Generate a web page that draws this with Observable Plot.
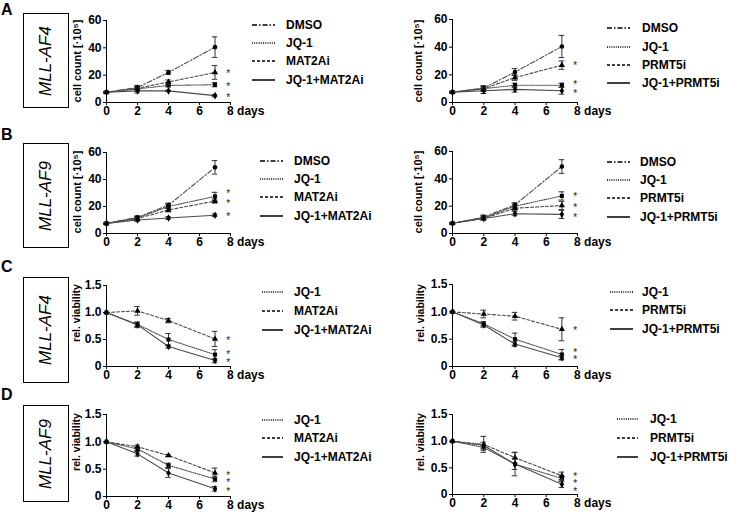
<!DOCTYPE html>
<html><head><meta charset="utf-8">
<script src="https://cdn.jsdelivr.net/npm/d3@7"></script>
<script src="https://cdn.jsdelivr.net/npm/@observablehq/plot@0.6"></script>
<style>
body{margin:0;background:#fff;}
#wrap{position:relative;width:729px;height:513px;font-family:"Liberation Sans",Arial,sans-serif;color:#000;overflow:hidden;}
.abs{position:absolute;}
.letter{font-weight:bold;font-size:16px;line-height:1;}
.box{border:1px solid #000;box-sizing:border-box;}
.boxlab{position:absolute;left:50%;top:50%;transform:translate(-50%,-50%) rotate(-90deg);font-style:italic;font-size:17px;white-space:nowrap;}
.ylab{position:absolute;transform:translate(-50%,-50%) rotate(-90deg);font-weight:bold;white-space:nowrap;}
.leg{position:absolute;font-weight:bold;font-size:12px;transform:translateY(-50%);white-space:nowrap;line-height:1;}
</style></head>
<body><div id="wrap"></div>
<script>
// ---------- data ----------
const days = [0, 2, 4, 7];
const starLabel = "*";

// A: MLL-AF4 cell count
const A_mat_DMSO = [7.5, 11, 22, 40.5], A_mat_DMSO_sd = [0.5, 1.5, 1.5, 7.5];
const A_mat_JQ1 = [7.5, 10, 12.5, 13], A_mat_JQ1_sd = [0.5, 1.5, 1, 1.5];
const A_mat_INH = [7.5, 10.5, 15, 22], A_mat_INH_sd = [0.5, 1, 1.5, 5];
const A_mat_CMB = [7.5, 8.5, 8.5, 5], A_mat_CMB_sd = [0.5, 1.5, 0.5, 0.8];
const A_mat_stars = [23, 13.5, 5];

const A_prm_DMSO = [7.5, 10.5, 22, 40.5], A_prm_DMSO_sd = [0.5, 1.5, 2.5, 8];
const A_prm_JQ1 = [7.5, 10, 12.5, 12.5], A_prm_JQ1_sd = [0.5, 2, 1.5, 1.5];
const A_prm_INH = [7.5, 10, 18, 27], A_prm_INH_sd = [0.5, 1.5, 2, 3];
const A_prm_CMB = [7.5, 8.5, 9.5, 8.5], A_prm_CMB_sd = [0.5, 2, 2, 2.5];
const A_prm_stars = [28, 14.5, 8];

// B: MLL-AF9 cell count
const B_mat_DMSO = [7.5, 12, 21, 49], B_mat_DMSO_sd = [0.5, 1, 1.5, 5];
const B_mat_JQ1 = [7.5, 11.5, 20, 27.5], B_mat_JQ1_sd = [0.5, 1, 1.5, 3];
const B_mat_INH = [7.5, 11, 17.5, 24], B_mat_INH_sd = [0.5, 1, 1.5, 1.5];
const B_mat_CMB = [7.5, 10, 11.5, 13.5], B_mat_CMB_sd = [0.5, 1, 1, 1];
const B_mat_stars = [31, 24, 14];

const B_prm_DMSO = [7.5, 12, 21, 49], B_prm_DMSO_sd = [0.5, 1.5, 1.5, 5];
const B_prm_JQ1 = [7.5, 11.5, 20, 27.5], B_prm_JQ1_sd = [0.5, 1.5, 1.5, 3];
const B_prm_INH = [7.5, 11, 18.5, 20.5], B_prm_INH_sd = [0.5, 1, 1.5, 3];
const B_prm_CMB = [7.5, 11, 14.5, 14], B_prm_CMB_sd = [0.5, 1, 1.5, 3];
const B_prm_stars = [29, 21, 13];

// C: MLL-AF4 relative viability
const C_mat_JQ1 = [1, 0.78, 0.5, 0.22], C_mat_JQ1_sd = [0, 0.04, 0.11, 0.09];
const C_mat_INH = [1, 1.03, 0.85, 0.51], C_mat_INH_sd = [0, 0.08, 0.04, 0.14];
const C_mat_CMB = [1, 0.77, 0.37, 0.11], C_mat_CMB_sd = [0, 0.05, 0.03, 0.04];
const C_mat_stars = [0.52, 0.26, 0.11];

const C_prm_JQ1 = [1, 0.78, 0.5, 0.22], C_prm_JQ1_sd = [0, 0.04, 0.11, 0.09];
const C_prm_INH = [1, 0.96, 0.92, 0.68], C_prm_INH_sd = [0, 0.07, 0.07, 0.21];
const C_prm_CMB = [1, 0.76, 0.41, 0.16], C_prm_CMB_sd = [0, 0.04, 0.04, 0.04];
const C_prm_stars = [0.69, 0.29, 0.16];

// D: MLL-AF9 relative viability
const D_mat_JQ1 = [1, 0.87, 0.57, 0.32], D_mat_JQ1_sd = [0, 0.03, 0.04, 0.05];
const D_mat_INH = [1, 0.91, 0.75, 0.43], D_mat_INH_sd = [0, 0.03, 0.02, 0.09];
const D_mat_CMB = [1, 0.78, 0.43, 0.14], D_mat_CMB_sd = [0, 0.04, 0.08, 0.04];
const D_mat_stars = [0.43, 0.29, 0.135];

const D_prm_JQ1 = [1, 0.88, 0.57, 0.3], D_prm_JQ1_sd = [0, 0.05, 0.1, 0.05];
const D_prm_INH = [1, 0.94, 0.69, 0.35], D_prm_INH_sd = [0, 0.15, 0.1, 0.07];
const D_prm_CMB = [1, 0.92, 0.57, 0.19], D_prm_CMB_sd = [0, 0.06, 0.22, 0.06];
const D_prm_stars = [0.38, 0.24, 0.1];

// ticks & labels
const xTicks = [0, 2, 4, 6, 8];
const countTicks = [0, 20, 40, 60];
const viaTicks = [0, 0.5, 1.0, 1.5];
const legMat4 = ["DMSO", "JQ-1", "MAT2Ai", "JQ-1+MAT2Ai"];
const legPrm4 = ["DMSO", "JQ-1", "PRMT5i", "JQ-1+PRMT5i"];
const legMat3 = ["JQ-1", "MAT2Ai", "JQ-1+MAT2Ai"];
const legPrm3 = ["JQ-1", "PRMT5i", "JQ-1+PRMT5i"];
const panelLetters = ["A", "B", "C", "D"];
const cellLines = ["MLL-AF4", "MLL-AF9", "MLL-AF4", "MLL-AF9"];
const yLabelCount = "cell count [·10⁵]";
const yLabelVia = "rel. viability";
const daysLabel = "8 days";

// ---------- styles ----------
const STY = {
  DMSO: {dash: "5,2,1.5,2", symbol: "circle"},
  JQ1: {dash: "1,1.2", symbol: "square"},
  INH: {dash: "3,2", symbol: "triangle"},
  CMB: {dash: null, symbol: "diamond"}
};
const wrap = document.getElementById("wrap");

function ser(key, vals, sd) { return {key, vals, sd}; }

function panel(cfg) {
  const mL = 40, mT = 10, mR = 45, mB = 22;
  const W = (cfg.x8 - cfg.x0) + mL + mR, H = (cfg.yBot - cfg.yTop) + mT + mB;
  const marks = [
    Plot.ruleY([0], {stroke: "#000", strokeWidth: 1}),
    Plot.ruleX([0], {stroke: "#000", strokeWidth: 1}),
    Plot.axisX({ticks: xTicks, tickSize: 3, tickPadding: 1, tickFormat: d => d === 8 ? "" : d, label: null}),
    Plot.axisY({ticks: cfg.yTicks, tickSize: 3, tickPadding: 2, tickFormat: cfg.fmt, label: null}),
    Plot.text([8], {x: d => d, y: () => 0, text: () => daysLabel, textAnchor: "start", lineAnchor: "top", dx: -3.4, dy: 4})
  ];
  cfg.series.forEach(s => {
    const st = STY[s.key];
    const d = s.vals.map((v, i) => ({day: days[i], v, sd: s.sd[i]}));
    const e = d.filter(r => r.sd > 0);
    marks.push(Plot.line(d, {x: "day", y: "v", stroke: "#4a4a4a", strokeWidth: 1.1, strokeDasharray: st.dash}));
    marks.push(Plot.ruleX(e, {x: "day", y1: r => r.v - r.sd, y2: r => r.v + r.sd, stroke: "#333", strokeWidth: 1}));
    marks.push(Plot.ruleY(e, {y: r => r.v + r.sd, x1: r => r.day - 0.18, x2: r => r.day + 0.18, stroke: "#333"}));
    marks.push(Plot.ruleY(e, {y: r => r.v - r.sd, x1: r => r.day - 0.18, x2: r => r.day + 0.18, stroke: "#333"}));
    marks.push(Plot.dot(d, {x: "day", y: "v", r: 2.3, fill: "#000", symbol: st.symbol}));
  });
  marks.push(Plot.text(cfg.stars, {x: () => 7.85, y: d => d, text: () => starLabel, fontSize: 10, fontWeight: "normal", fill: "#222", dy: 2.5}));
  const p = Plot.plot({
    width: W, height: H, marginLeft: mL, marginRight: mR, marginTop: mT, marginBottom: mB,
    x: {domain: [0, 8], label: null}, y: {domain: cfg.yDomain, label: null},
    style: {fontFamily: "'Liberation Sans', Arial, sans-serif", fontSize: "12px", fontWeight: "bold", background: "transparent", overflow: "visible", color: "#000"},
    marks
  });
  p.style.position = "absolute";
  p.style.left = (cfg.x0 - mL) + "px";
  p.style.top = (cfg.yTop - mT) + "px";
  wrap.appendChild(p);
}

function addDiv(cls, html, css) {
  const d = document.createElement("div");
  d.className = cls; d.innerHTML = html;
  Object.assign(d.style, css);
  wrap.appendChild(d); return d;
}

function legend(labels, keys, x1, x2, tx, ys) {
  const ns = "http://www.w3.org/2000/svg";
  const svg = document.createElementNS(ns, "svg");
  svg.setAttribute("width", 729); svg.setAttribute("height", 513);
  svg.style.position = "absolute"; svg.style.left = 0; svg.style.top = 0; svg.style.pointerEvents = "none";
  labels.forEach((lab, i) => {
    const ln = document.createElementNS(ns, "line");
    ln.setAttribute("x1", x1); ln.setAttribute("x2", x2);
    ln.setAttribute("y1", ys[i]); ln.setAttribute("y2", ys[i]);
    ln.setAttribute("stroke", "#000"); ln.setAttribute("stroke-width", 1.5);
    const st = STY[keys[i]];
    if (st.dash) ln.setAttribute("stroke-dasharray", st.dash);
    svg.appendChild(ln);
    addDiv("leg", lab, {left: tx + "px", top: ys[i] + "px"});
  });
  wrap.appendChild(svg);
}

const fmtVia = d => d === 0 ? "0" : d.toFixed(1);
const L = {x0: 106, x8: 230}, R = {x0: 452, x8: 577};

panel({...L, yTop: 20, yBot: 102, yDomain: [0, 60], yTicks: countTicks, fmt: d => d, stars: A_mat_stars,
  series: [ser("DMSO", A_mat_DMSO, A_mat_DMSO_sd), ser("JQ1", A_mat_JQ1, A_mat_JQ1_sd), ser("INH", A_mat_INH, A_mat_INH_sd), ser("CMB", A_mat_CMB, A_mat_CMB_sd)]});
panel({...R, yTop: 19, yBot: 102, yDomain: [0, 60], yTicks: countTicks, fmt: d => d, stars: A_prm_stars,
  series: [ser("DMSO", A_prm_DMSO, A_prm_DMSO_sd), ser("JQ1", A_prm_JQ1, A_prm_JQ1_sd), ser("INH", A_prm_INH, A_prm_INH_sd), ser("CMB", A_prm_CMB, A_prm_CMB_sd)]});
panel({...L, yTop: 152, yBot: 233, yDomain: [0, 60], yTicks: countTicks, fmt: d => d, stars: B_mat_stars,
  series: [ser("DMSO", B_mat_DMSO, B_mat_DMSO_sd), ser("JQ1", B_mat_JQ1, B_mat_JQ1_sd), ser("INH", B_mat_INH, B_mat_INH_sd), ser("CMB", B_mat_CMB, B_mat_CMB_sd)]});
panel({...R, yTop: 151, yBot: 233, yDomain: [0, 60], yTicks: countTicks, fmt: d => d, stars: B_prm_stars,
  series: [ser("DMSO", B_prm_DMSO, B_prm_DMSO_sd), ser("JQ1", B_prm_JQ1, B_prm_JQ1_sd), ser("INH", B_prm_INH, B_prm_INH_sd), ser("CMB", B_prm_CMB, B_prm_CMB_sd)]});
panel({...L, yTop: 285, yBot: 366, yDomain: [0, 1.5], yTicks: viaTicks, fmt: fmtVia, stars: C_mat_stars,
  series: [ser("JQ1", C_mat_JQ1, C_mat_JQ1_sd), ser("INH", C_mat_INH, C_mat_INH_sd), ser("CMB", C_mat_CMB, C_mat_CMB_sd)]});
panel({...R, yTop: 284, yBot: 366, yDomain: [0, 1.5], yTicks: viaTicks, fmt: fmtVia, stars: C_prm_stars,
  series: [ser("JQ1", C_prm_JQ1, C_prm_JQ1_sd), ser("INH", C_prm_INH, C_prm_INH_sd), ser("CMB", C_prm_CMB, C_prm_CMB_sd)]});
panel({...L, yTop: 414, yBot: 496, yDomain: [0, 1.5], yTicks: viaTicks, fmt: fmtVia, stars: D_mat_stars,
  series: [ser("JQ1", D_mat_JQ1, D_mat_JQ1_sd), ser("INH", D_mat_INH, D_mat_INH_sd), ser("CMB", D_mat_CMB, D_mat_CMB_sd)]});
panel({...R, yTop: 414, yBot: 494, yDomain: [0, 1.5], yTicks: viaTicks, fmt: fmtVia, stars: D_prm_stars,
  series: [ser("JQ1", D_prm_JQ1, D_prm_JQ1_sd), ser("INH", D_prm_INH, D_prm_INH_sd), ser("CMB", D_prm_CMB, D_prm_CMB_sd)]});

// panel letters
const letterY = [2, 127, 259, 387];
panelLetters.forEach((t, i) => addDiv("abs letter", t, {left: "1px", top: letterY[i] + "px"}));
// boxes with cell line names
const boxes = [[13, 108], [143, 248], [277, 383], [405, 502]];
cellLines.forEach((t, i) => {
  const b = addDiv("abs box", "", {left: "23px", top: boxes[i][0] + "px", width: "46px", height: (boxes[i][1] - boxes[i][0]) + "px"});
  const s = document.createElement("div"); s.className = "boxlab"; s.textContent = t; b.appendChild(s);
});
// y-axis labels
const ylabs = [
  [77, 61, yLabelCount, 11], [418, 61, yLabelCount, 11],
  [77, 192, yLabelCount, 11], [418, 192, yLabelCount, 11],
  [76, 313, yLabelVia, 10.5], [420, 313, yLabelVia, 10.5],
  [76, 442, yLabelVia, 10.5], [420, 442, yLabelVia, 10.5]
];
ylabs.forEach(([x, y, t, fs]) => addDiv("ylab", t, {left: x + "px", top: y + "px", fontSize: fs + "px"}));

// legends
legend(legMat4, ["DMSO", "JQ1", "INH", "CMB"], 252, 275, 286, [25, 43, 61, 80]);
legend(legPrm4, ["DMSO", "JQ1", "INH", "CMB"], 607, 630, 642, [28, 47, 65, 83]);
legend(legMat4, ["DMSO", "JQ1", "INH", "CMB"], 260, 283, 294, [161, 179, 197, 216]);
legend(legPrm4, ["DMSO", "JQ1", "INH", "CMB"], 607, 630, 640, [162, 180, 198, 217]);
legend(legMat3, ["JQ1", "INH", "CMB"], 262, 283, 294, [292, 311, 330]);
legend(legPrm3, ["JQ1", "INH", "CMB"], 610, 633, 642, [292, 310, 329]);
legend(legMat3, ["JQ1", "INH", "CMB"], 262, 283, 294, [420, 438, 457]);
legend(legPrm3, ["JQ1", "INH", "CMB"], 617, 638, 650, [419, 438, 457]);
</script></body></html>
